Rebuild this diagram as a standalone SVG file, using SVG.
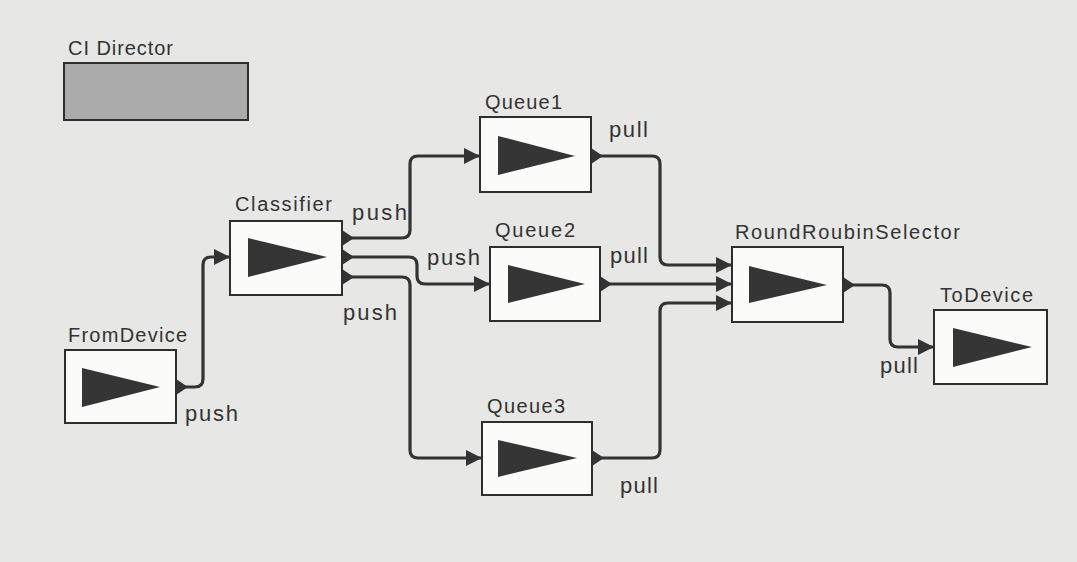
<svg xmlns="http://www.w3.org/2000/svg" width="1077" height="562" viewBox="0 0 1077 562">
  <defs>
    <style>
      .bg { fill: #e7e7e5; }
      .box { fill: #fbfbfa; stroke: #2e2e2e; stroke-width: 2; }
      .director { fill: #ababab; stroke: #2e2e2e; stroke-width: 2; }
      .tri { fill: #353535; }
      .label { font-family: "Liberation Sans", Arial, sans-serif; font-size: 20px; fill: #333; }
      .port { font-family: "Liberation Sans", Arial, sans-serif; font-size: 22px; fill: #333; }
      .wire { fill: none; stroke: #333; stroke-width: 3.2; stroke-linejoin: round; marker-start: url(#out); marker-end: url(#in); }
    </style>
    <marker id="in" markerUnits="userSpaceOnUse" markerWidth="18" markerHeight="18" refX="16" refY="8" orient="auto">
      <path d="M0,0 L16,8 L0,16 z" fill="#333"/>
    </marker>
    <marker id="out" markerUnits="userSpaceOnUse" markerWidth="14" markerHeight="18" refX="0" refY="8" orient="auto">
      <path d="M0,0 L12,8 L0,16 z" fill="#333"/>
    </marker>
  </defs>
  <rect class="bg" x="0" y="0" width="1077" height="562"/>

  <g id="ci-director">
    <text class="label" x="68" y="55" textLength="105" lengthAdjust="spacing">CI Director</text>
    <rect class="director" x="64" y="63" width="184" height="57"/>
  </g>

  <g id="connectors">
    <path class="wire" d="M176,387 H195 Q203,387 203,379 V265 Q203,257 211,257 H230"/>
    <path class="wire" d="M342,238 H402 Q410,238 410,230 V164 Q410,156 418,156 H480"/>
    <path class="wire" d="M342,257 H409 Q417,257 417,265 V276 Q417,284 425,284 H490"/>
    <path class="wire" d="M342,277 H402 Q410,277 410,285 V450 Q410,458 418,458 H482"/>
    <path class="wire" d="M591,156 H652 Q660,156 660,164 V257 Q660,265 668,265 H732"/>
    <path class="wire" d="M600,284 H732"/>
    <path class="wire" d="M592,458 H652 Q660,458 660,450 V311 Q660,303 668,303 H732"/>
    <path class="wire" d="M843,285 H882 Q890,285 890,293 V339 Q890,347 898,347 H934"/>
    <text class="port" x="185" y="421" textLength="53" lengthAdjust="spacing">push</text>
    <text class="port" x="352" y="220" textLength="55" lengthAdjust="spacing">push</text>
    <text class="port" x="427" y="265" textLength="53" lengthAdjust="spacing">push</text>
    <text class="port" x="343" y="320" textLength="54" lengthAdjust="spacing">push</text>
    <text class="port" x="609" y="137" textLength="39" lengthAdjust="spacing">pull</text>
    <text class="port" x="610" y="263" textLength="38" lengthAdjust="spacing">pull</text>
    <text class="port" x="620" y="493" textLength="38" lengthAdjust="spacing">pull</text>
    <text class="port" x="880" y="373" textLength="38" lengthAdjust="spacing">pull</text>
  </g>

  <g id="fromdevice">
    <text class="label" x="68" y="342" textLength="119" lengthAdjust="spacing">FromDevice</text>
    <rect class="box" x="65" y="350" width="111" height="73"/>
    <polygon class="tri" points="82,368 160,387 82,407"/>
  </g>

  <g id="classifier">
    <text class="label" x="235" y="211" textLength="97" lengthAdjust="spacing">Classifier</text>
    <rect class="box" x="230" y="221" width="112" height="74"/>
    <polygon class="tri" points="248,238 327,257 248,277"/>
  </g>

  <g id="queue1">
    <text class="label" x="485" y="109" textLength="77" lengthAdjust="spacing">Queue1</text>
    <rect class="box" x="480" y="117" width="111" height="75"/>
    <polygon class="tri" points="498,136 575,156 498,175"/>
  </g>

  <g id="queue2">
    <text class="label" x="495" y="237" textLength="80" lengthAdjust="spacing">Queue2</text>
    <rect class="box" x="490" y="247" width="110" height="74"/>
    <polygon class="tri" points="508,265 585,284 508,303"/>
  </g>

  <g id="queue3">
    <text class="label" x="487" y="413" textLength="78" lengthAdjust="spacing">Queue3</text>
    <rect class="box" x="482" y="422" width="110" height="73"/>
    <polygon class="tri" points="498,440 577,458 498,477"/>
  </g>

  <g id="roundroubinselector">
    <text class="label" x="735" y="239" textLength="225" lengthAdjust="spacing">RoundRoubinSelector</text>
    <rect class="box" x="732" y="247" width="111" height="75"/>
    <polygon class="tri" points="749,266 827,285 749,303"/>
  </g>

  <g id="todevice">
    <text class="label" x="940" y="302" textLength="93" lengthAdjust="spacing">ToDevice</text>
    <rect class="box" x="934" y="310" width="113" height="74"/>
    <polygon class="tri" points="953,328 1032,347 953,367"/>
  </g>
</svg>
